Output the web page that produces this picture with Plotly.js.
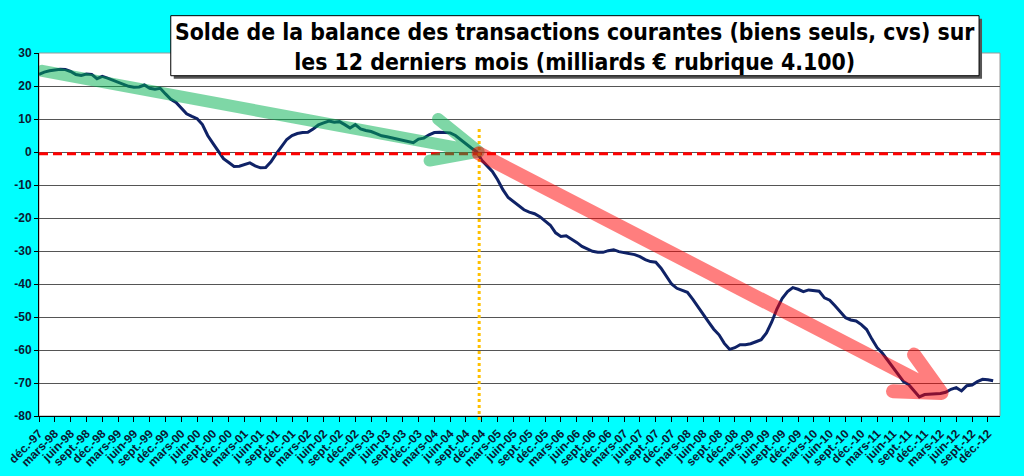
<!DOCTYPE html>
<html>
<head>
<meta charset="utf-8">
<script src="https://cdn.plot.ly/plotly-3.0.1.min.js"></script>
<style>
  html, body { margin: 0; padding: 0; background: #00ffff; }
  #chart { width: 1024px; height: 476px; }
</style>
</head>
<body>
<div id="chart"></div>
<script>
// Solde sur 12 mois glissants, un point par mois de déc.-97 à janv.-13
var solde = [
    23.5, 24.2, 24.6, 24.9, 25.1, 25.0, 24.4, 23.5, 23.2, 23.6,
    23.5, 22.2, 22.9, 22.4, 21.8, 21.1, 20.5, 19.9, 19.6, 19.7,
    20.3, 19.3, 19.0, 19.3, 17.6, 16.0, 15.0, 13.3, 11.6, 10.8,
    10.1, 8.3, 5.0, 2.6, 0.2, -2.0, -3.2, -4.4, -4.3, -3.8,
    -3.3, -4.2, -4.8, -4.7, -3.0, -0.6, 1.8, 3.8, 5.0, 5.6,
    5.9, 6.0, 7.0, 8.2, 8.8, 9.4, 9.0, 9.2, 8.3, 7.3,
    8.3, 7.0, 6.5, 6.2, 5.6, 4.9, 4.6, 4.2, 3.8, 3.5,
    3.0, 2.8, 3.9, 4.2, 5.2, 5.9, 6.0, 6.0, 5.8, 5.0,
    3.7, 2.3, 1.2, 0.1, -2.5, -4.2, -5.9, -8.4, -11.4, -13.8,
    -15.0, -16.1, -17.5, -18.2, -18.7, -19.6, -21.0, -22.2, -24.5, -25.6,
    -25.4, -26.3, -27.4, -28.6, -29.4, -30.1, -30.4, -30.4, -29.9, -29.6,
    -30.2, -30.5, -30.7, -31.1, -31.7, -32.6, -33.2, -33.4, -35.2, -37.8,
    -40.0, -41.3, -41.8, -42.5, -44.6, -47.0, -49.2, -51.5, -53.7, -55.4,
    -58.0, -59.8, -59.3, -58.4, -58.4, -58.1, -57.5, -56.9, -54.8, -51.5,
    -47.5, -44.3, -42.3, -41.1, -41.6, -42.3, -41.8, -41.9, -42.2, -44.2,
    -44.9, -46.6, -48.5, -50.2, -50.9, -51.2, -52.3, -53.8, -56.7, -59.3,
    -61.0, -63.2, -65.2, -67.7, -69.6, -70.5, -72.5, -74.2, -73.5, -73.4,
    -73.3, -73.2, -72.8, -71.9, -71.4, -72.4, -70.8, -70.6, -69.6, -68.9,
    -69.0, -69.3
];

// étiquettes trimestrielles de l'axe des abscisses
var trimestres = [
    "déc.-97", "mars-98", "juin-98", "sept.-98", "déc.-98", "mars-99", "juin-99", "sept.-99",
    "déc.-99", "mars-00", "juin-00", "sept.-00", "déc.-00", "mars-01", "juin-01", "sept.-01",
    "déc.-01", "mars-02", "juin-02", "sept.-02", "déc.-02", "mars-03", "juin-03", "sept.-03",
    "déc.-03", "mars-04", "juin-04", "sept.-04", "déc.-04", "mars-05", "juin-05", "sept.-05",
    "déc.-05", "mars-06", "juin-06", "sept.-06", "déc.-06", "mars-07", "juin-07", "sept.-07",
    "déc.-07", "mars-08", "juin-08", "sept.-08", "déc.-08", "mars-09", "juin-09", "sept.-09",
    "déc.-09", "mars-10", "juin-10", "sept.-10", "déc.-10", "mars-11", "juin-11", "sept.-11",
    "déc.-11", "mars-12", "juin-12", "sept.-12", "déc.-12"
];

var yTicks = [30, 20, 10, 0, -10, -20, -30, -40, -50, -60, -70, -80];

var mois = solde.map(function(v, i) { return i; });
var tickPos = trimestres.map(function(t, i) { return i * 3; });
var tickGras = trimestres.map(function(t) { return '<b>' + t + '</b>'; });
var yGras = yTicks.map(function(v) { return '<b>' + v + '</b>'; });

// flèches de tendance dessinées à la main (mois, valeur)
var flecheVerte = { debut: [0.6, 24.6], pointe: [83.4, 0.1], aile1: [75.7, 10.0], aile2: [74.1, -2.6] };
var flecheRouge = { debut: [83.4, -0.4], pointe: [171.2, -73.0], aile1: [166.0, -61.4], aile2: [162.0, -72.5] };

function flechePath(f) {
    var p = function(pt) { return pt[0] + ',' + pt[1]; };
    return 'M' + p(f.debut) + ' L' + p(f.pointe) +
           ' M' + p(f.aile1) + ' L' + p(f.pointe) + ' L' + p(f.aile2);
}

// conversion valeur -> coordonnée papier (axe -80..30)
function yPaper(v) { return (v + 80) / 110; }

var narrow = 'Liberation Sans Narrow, Arial Narrow, DejaVu Sans Condensed, sans-serif';

var trace = {
    type: 'scatter',
    mode: 'lines',
    x: mois,
    y: solde,
    line: { color: '#0f2266', width: 3 },
    hoverinfo: 'skip'
};

var layout = {
    width: 1024,
    height: 476,
    paper_bgcolor: '#00ffff',
    plot_bgcolor: '#ffffff',
    margin: { l: 39, r: 24, t: 53, b: 60 },
    showlegend: false,
    xaxis: {
        range: [0, 182.3],
        tickvals: tickPos,
        ticktext: tickGras,
        tickangle: -45,
        tickfont: { family: 'Liberation Sans, Arial, sans-serif', size: 12, color: '#0c1a33' },
        ticks: 'outside',
        ticklen: 5,
        tickcolor: '#000000',
        showline: true,
        linecolor: '#000000',
        linewidth: 1,
        showgrid: false,
        zeroline: false,
        fixedrange: true
    },
    yaxis: {
        range: [-80, 30],
        tickvals: yTicks,
        ticktext: yGras,
        tickfont: { family: 'Liberation Sans, Arial, sans-serif', size: 12, color: '#0c1a33' },
        ticks: 'outside',
        ticklen: 4,
        tickcolor: '#000000',
        showline: true,
        linecolor: '#000000',
        linewidth: 1,
        showgrid: true,
        gridcolor: '#555555',
        gridwidth: 1,
        zeroline: false,
        fixedrange: true
    },
    shapes: [
        // bord gris de la zone de tracé
        { type: 'rect', xref: 'paper', yref: 'paper', x0: 0, x1: 1.0, y0: 0, y1: 1,
          line: { color: '#999999', width: 1 }, layer: 'below' },
        // zéro en tirets rouges
        { type: 'line', xref: 'paper', yref: 'y', x0: 0, x1: 1, y0: -0.5, y1: -0.5,
          line: { color: '#ff0000', width: 3, dash: '9px,5px' } },
        // repère déc.-04
        { type: 'line', xref: 'x', yref: 'paper', x0: 83.5, x1: 83.5, y0: yPaper(7), y1: yPaper(-82),
          line: { color: '#ffc000', width: 3, dash: 'dot' } },
        // flèches
        { type: 'path', xref: 'x', yref: 'y', path: flechePath(flecheVerte),
          line: { color: '#00b050', width: 12 }, opacity: 0.5 },
        { type: 'path', xref: 'x', yref: 'y', path: flechePath(flecheRouge),
          line: { color: '#ff0000', width: 14 }, opacity: 0.5 },
        // ombre et cadre du titre
        { type: 'rect', xref: 'paper', yref: 'paper', x0: 0.1402, x1: 0.9813, y0: 0.9291, y1: 1.0946,
          fillcolor: '#555555', line: { width: 0 } },
        { type: 'rect', xref: 'paper', yref: 'paper', x0: 0.1371, x1: 0.9782, y0: 0.9374, y1: 1.1028,
          fillcolor: '#ffffff', line: { color: '#000000', width: 1 } }
    ],
    annotations: [
        {
            xref: 'paper', yref: 'paper', x: 0.5576, y: 1.0170,
            xanchor: 'center', yanchor: 'middle',
            text: 'Solde de la balance des transactions courantes (biens seuls, cvs) sur<br>les 12 derniers mois (milliards € rubrique 4.100)',
            showarrow: false,
            align: 'center',
            font: { family: narrow, size: 22.8, color: '#000000', weight: 'bold' }
        }
    ]
};

Plotly.newPlot('chart', [trace], layout, { displayModeBar: false, staticPlot: true }).then(function() {
    // bouts arrondis pour les flèches
    document.querySelectorAll('.shapelayer path[data-index="3"], .shapelayer path[data-index="4"]').forEach(function(el) {
        el.style.strokeLinecap = 'round';
        el.style.strokeLinejoin = 'round';
    });
});
</script>
</body>
</html>
